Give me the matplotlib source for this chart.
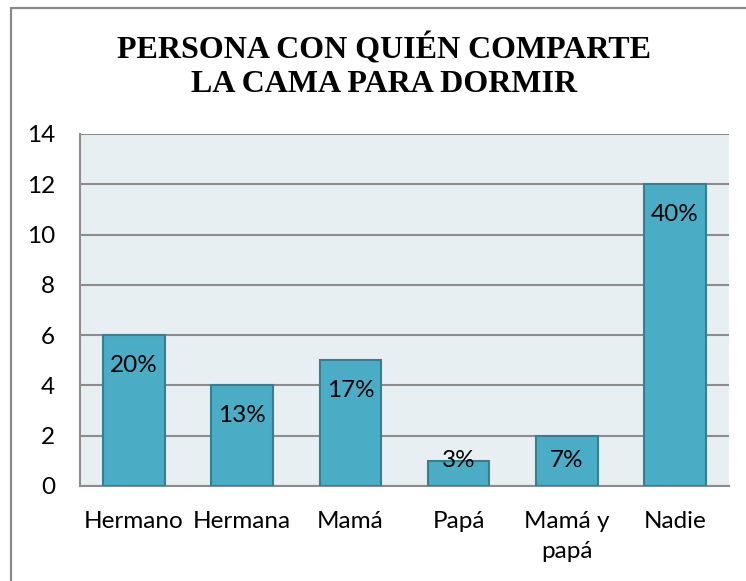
import matplotlib
matplotlib.use("Agg")
import matplotlib.pyplot as plt
from matplotlib.patches import Rectangle

categories = ["Hermano", "Hermana", "Mamá", "Papá", "Mamá y\npapá", "Nadie"]
counts = [6, 4, 5, 1, 2, 12]
yticks = [0, 2, 4, 6, 8, 10, 12, 14]

BAR = "#4BACC6"
BAR_EDGE = "#357F93"
PLOT_BG = "#E8EFF3"
GRID = "#8C8C8C"
INK = "#000000"

total = sum(counts)
pcts = [f"{round(100 * c / total)}%" for c in counts]

fig = plt.figure(figsize=(7.46, 5.81), dpi=100)
fig.patch.set_facecolor("white")

# outer chart border (runs off the right/bottom of the image)
fig.add_artist(Rectangle((10.5 / 746, -0.1), 1.2, 1 - 8 / 581 + 0.1,
                         transform=fig.transFigure, fill=False,
                         edgecolor="#8A8A8A", linewidth=1.6))

ax = fig.add_axes([80 / 746, 1 - 486 / 581, (729 - 80) / 746, (486 - 134) / 581])
ax.set_facecolor(PLOT_BG)

x = list(range(len(categories)))
ax.bar(x, counts, width=0.57, color=BAR, edgecolor=BAR_EDGE, linewidth=1.5, zorder=3)

for xi, c, p in zip(x, counts, pcts):
    ax.text(xi, max(c - 1.2, 1.0), p, ha="center", va="center",
            fontsize=17.5, family="Lato", color=INK, zorder=4)

ax.set_xlim(-0.5, len(categories) - 0.5)
ax.set_ylim(0, 14)
ax.set_yticks(yticks)
ax.set_xticks(x)
ax.set_xticklabels(categories, family="Lato", fontsize=17.5, linespacing=1.55)
ax.set_yticklabels([str(t) for t in yticks], family="Lato", fontsize=17.5)
ax.tick_params(axis="both", length=0)
ax.tick_params(axis="y", pad=18)
ax.tick_params(axis="x", pad=18)
ax.yaxis.grid(True, color=GRID, linewidth=1.5, zorder=1)
ax.set_axisbelow(True)
for side in ["top", "right"]:
    ax.spines[side].set_visible(False)
for side in ["left", "bottom"]:
    ax.spines[side].set_color(GRID)
    ax.spines[side].set_linewidth(1.5)

fig.text(384 / 746, 1 - 66 / 581, "PERSONA CON QUIÉN COMPARTE\nLA CAMA PARA DORMIR",
         ha="center", va="center", fontsize=23, fontweight="bold",
         family="Liberation Serif", color=INK, linespacing=1.2)

fig.savefig("out.png", dpi=100)
